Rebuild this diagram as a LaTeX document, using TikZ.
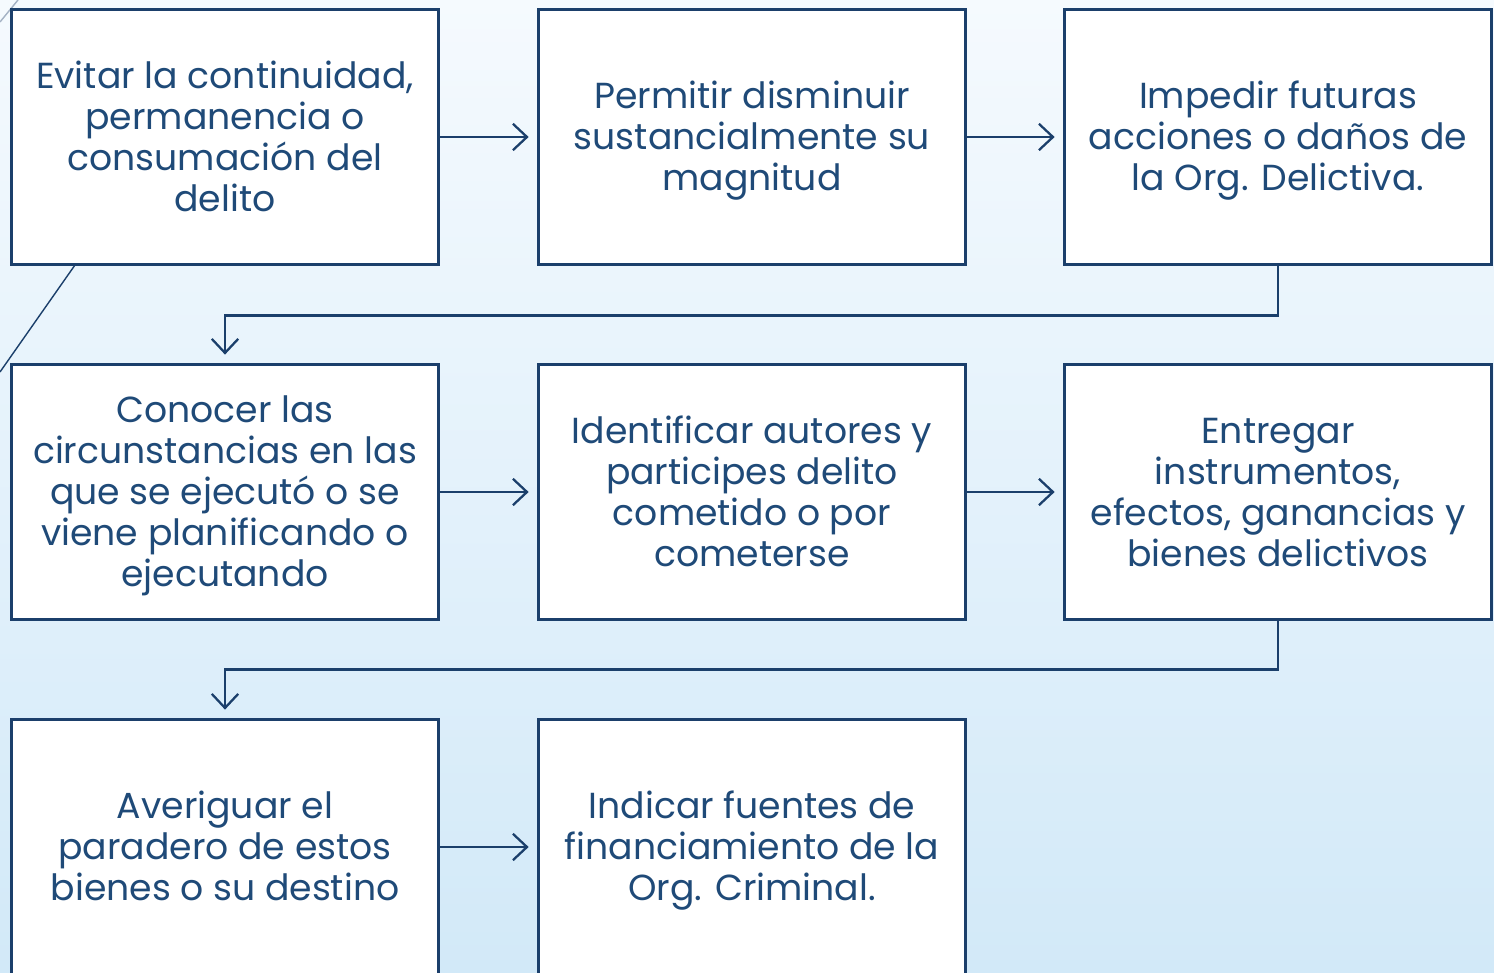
\documentclass[tikz,border=0pt]{standalone}
\usepackage{fontspec}
\setmainfont{Poppins}
\usetikzlibrary{arrows.meta}
\definecolor{navy}{HTML}{1B3F6B}
\definecolor{txt}{HTML}{1F4A78}
\definecolor{bgtop}{HTML}{F5FAFE}
\definecolor{bgbot}{HTML}{D2E9F8}
\newcommand\tstrut{\rule{0pt}{20.5pt}}
\newcommand\bstrut{\rule[-6pt]{0pt}{6pt}}
\tikzset{
  box/.style={draw=navy, line width=1.7pt, fill=white, minimum width=8.56cm, minimum height=5.12cm,
    text=txt, align=center, font=\fontsize{20.6}{23.3}\selectfont, inner sep=0pt},
  conn/.style={draw=navy, line width=1.3pt, -{Straight Barb[length=8pt,width=15pt,line width=1.3pt]}, shorten >=4.5pt},
  deco/.style={draw=navy, line width=0.8pt}
}
\begin{document}
\begin{tikzpicture}[x=0.02cm,y=-0.02cm]
\useasboundingbox (0,0) rectangle (1494,973);
\shade[top color=bgtop, bottom color=bgbot] (0,0) rectangle (1494,973);
\coordinate (d1) at (75,265);
\coordinate (d2) at (0,372);
\draw[deco] (d1) -- (d2);
\coordinate (d3) at (18,0);
\coordinate (d4) at (0,22);
\draw[deco, navy!40] (d3) -- (d4);
\node[box] (b1) at (225,137) {\tstrut Evitar la continuidad,\\permanencia o\\consumación del\\delito\bstrut};
\node[box] (b2) at (752,137) {\tstrut Permitir disminuir\\sustancialmente su\\magnitud\bstrut};
\node[box] (b3) at (1278,137) {\tstrut Impedir futuras\\acciones o daños de\\la Org. Delictiva.\bstrut};
\node[box] (b4) at (225,492) {\tstrut Conocer las\\circunstancias en las\\que se ejecutó o se\\viene planificando o\\ejecutando\bstrut};
\node[box] (b5) at (752,492) {\tstrut Identificar autores y\\participes delito\\cometido o por\\cometerse\bstrut};
\node[box] (b6) at (1278,492) {\tstrut Entregar\\instrumentos,\\efectos, ganancias y\\bienes delictivos\bstrut};
\node[box] (b7) at (225,847) {\tstrut Averiguar el\\paradero de estos\\bienes o su destino\bstrut};
\node[box] (b8) at (752,847) {\tstrut Indicar fuentes de\\financiamiento de la\\Org. Criminal.\bstrut};
\draw[conn] (b1) -- (b2);
\draw[conn] (b2) -- (b3);
\draw[conn] (b4) -- (b5);
\draw[conn] (b5) -- (b6);
\draw[conn] (b7) -- (b8);
\draw[conn] (b3.south) -- ++(0,49) -| (b4.north);
\draw[conn] (b6.south) -- ++(0,48) -| (b7.north);
\end{tikzpicture}
\end{document}
